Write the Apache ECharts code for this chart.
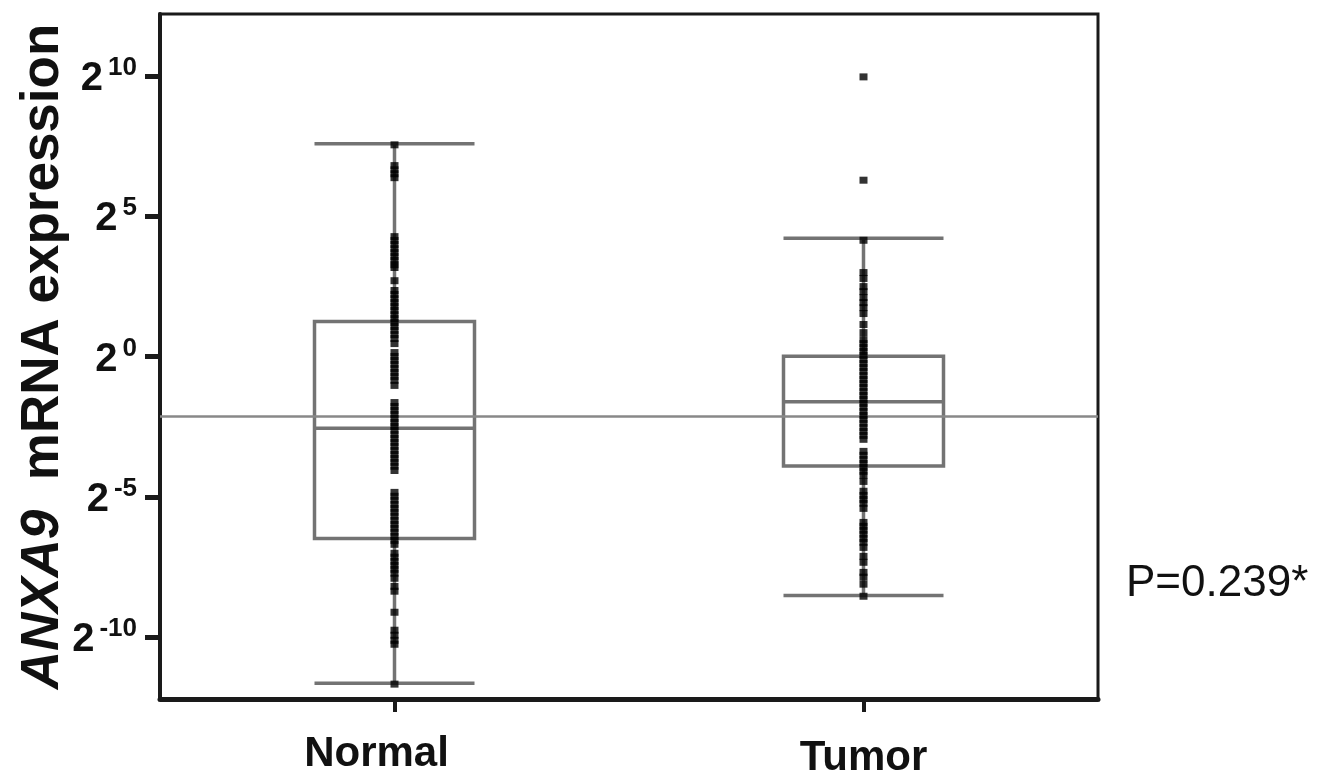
<!DOCTYPE html>
<html>
<head>
<meta charset="utf-8">
<script src="https://cdn.jsdelivr.net/npm/echarts@6/dist/echarts.min.js"></script>
<style>
html,body{margin:0;padding:0;background:#fff;}
#chart{width:1317px;height:782px;}
</style>
</head>
<body>
<div id="chart"></div>
<script>
// Values are log2(expression)
var categories = ['Normal', 'Tumor'];
var yTicks = [-10, -5, 0, 5, 10];
// [lower whisker, Q1, median, Q3, upper whisker]
var normalBox = [-11.64, -6.48, -2.56, 1.25, 7.58];
var tumorBox = [-8.51, -3.90, -1.61, 0.01, 4.21];
var referenceLevel = -2.14;
var pValueText = 'P=0.239*';

var normalPoints = [7.54, 6.80, 6.65, 6.51, 6.37,
  4.27, 4.13, 3.99, 3.84, 3.70, 3.56, 3.42, 3.27, 3.17, 2.70,
  2.35, 2.21, 2.06, 1.92, 1.78, 1.64, 1.49, 1.35, 1.21, 1.07, 0.93, 0.78, 0.64, 0.46,
  0.14, 0.00, -0.14, -0.28, -0.43, -0.57, -0.71, -0.85, -1.03,
  -1.64, -1.78, -1.92, -2.06, -2.21, -2.35, -2.49, -2.63, -2.78, -2.92, -3.06, -3.20, -3.35, -3.49, -3.63, -3.77, -3.91, -4.06,
  -4.84, -4.98, -5.12, -5.27, -5.41, -5.55, -5.69, -5.84, -5.98, -6.12, -6.26, -6.41, -6.55, -6.69,
  -7.01, -7.15, -7.30, -7.44, -7.58, -7.72, -7.90,
  -8.19, -8.36, -9.11,
  -9.75, -9.93, -10.11, -10.25, -11.67];

var tumorPoints = [9.96, 6.28, 4.14,
  2.99, 2.78, 2.49, 2.31, 2.10, 1.92, 1.74, 1.53, 1.14, 0.85,
  0.60, 0.46, 0.32, 0.18, 0.04, -0.11, -0.25, -0.39, -0.53, -0.68, -0.82, -0.96, -1.10, -1.25, -1.39, -1.53, -1.67, -1.81, -1.96, -2.10, -2.24, -2.38, -2.53, -2.67, -2.81, -2.95,
  -3.38, -3.52, -3.67, -3.81, -3.95, -4.09, -4.23, -4.45,
  -4.80, -4.95, -5.09, -5.23, -5.41,
  -5.91, -6.05, -6.19, -6.33, -6.48, -6.62, -6.80,
  -7.12, -7.33, -7.69, -7.86, -8.11, -8.54];

var FONT = "'Liberation Sans', Arial, Helvetica, sans-serif";

var chart = echarts.init(document.getElementById('chart'));

function pts(idx, arr) {
  return arr.map(function (v) { return [idx, v]; });
}

var option = {
  animation: false,
  backgroundColor: '#ffffff',
  grid: {
    left: 160, right: 219, top: 14, bottom: 83,
    containLabel: false,
    outerBoundsMode: 'none',
    show: true, borderColor: '#1a1a1a', borderWidth: 3, backgroundColor: 'transparent'
  },
  xAxis: {
    type: 'category',
    data: categories,
    boundaryGap: true,
    axisLine: { show: true, onZero: false, lineStyle: { color: '#1a1a1a', width: 5 } },
    axisTick: { show: true, alignWithLabel: true, length: 13, lineStyle: { color: '#1a1a1a', width: 4 } },
    axisLabel: {
      margin: 34,
      formatter: function (v, i) { return i === 0 ? '{n|' + v + '}' : '{t|' + v + '}'; },
      rich: {
        n: { fontSize: 42, fontWeight: 'bold', fontFamily: FONT, color: '#111', padding: [0, 36, 0, 0] },
        t: { fontSize: 42, fontWeight: 'bold', fontFamily: FONT, color: '#111', padding: [4, 0, 0, 0] }
      }
    },
    splitLine: { show: false }
  },
  yAxis: {
    type: 'value',
    min: -12.2,
    max: 12.2,
    axisLine: { show: true, onZero: false, lineStyle: { color: '#1a1a1a', width: 4 } },
    axisTick: { show: true, customValues: yTicks, length: 15, lineStyle: { color: '#1a1a1a', width: 5 } },
    axisLabel: {
      customValues: yTicks,
      margin: 23,
      formatter: function (v) { return '{b|2}{s|' + v + '}'; },
      rich: {
        b: { fontSize: 40, fontWeight: 'bold', fontFamily: FONT, color: '#111', padding: [6, 0, 0, 0] },
        s: { fontSize: 26, fontWeight: 'bold', fontFamily: FONT, color: '#111', verticalAlign: 'top', padding: [2, 0, 0, 5] }
      }
    },
    splitLine: { show: false },
    name: '{i|ANXA9}{n|  mRNA expression}',
    nameLocation: 'middle',
    nameRotate: 90,
    nameGap: 90,
    nameMoveOverlap: false,
    nameTextStyle: {
      rich: {
        i: { fontSize: 53, fontWeight: 'bold', fontStyle: 'italic', fontFamily: FONT, color: '#111' },
        n: { fontSize: 53, fontWeight: 'bold', fontFamily: FONT, color: '#111' }
      }
    }
  },
  series: [
    {
      type: 'boxplot',
      data: [normalBox, tumorBox],
      boxWidth: [160, 160],
      itemStyle: { color: 'rgba(255,255,255,0)', borderColor: '#737373', borderWidth: 3.5 },
      z: 2,
      markLine: {
        silent: true,
        symbol: ['none', 'none'],
        label: { show: false },
        lineStyle: { color: '#888888', width: 2.5, type: 'solid' },
        data: [{ yAxis: referenceLevel }]
      }
    },
    {
      type: 'scatter',
      data: pts(0, normalPoints),
      symbol: 'rect',
      symbolSize: [8, 7],
      itemStyle: { color: '#000' },
      z: 5
    },
    {
      type: 'scatter',
      data: pts(1, tumorPoints),
      symbol: 'rect',
      symbolSize: [8, 7],
      itemStyle: { color: '#000' },
      z: 5
    }
  ],
  graphic: [
    {
      type: 'text',
      left: 1126,
      top: 562,
      style: {
        text: pValueText,
        fontSize: 44,
        fontFamily: FONT,
        fill: '#111'
      }
    }
  ]
};
chart.setOption(option);
</script>
</body>
</html>
